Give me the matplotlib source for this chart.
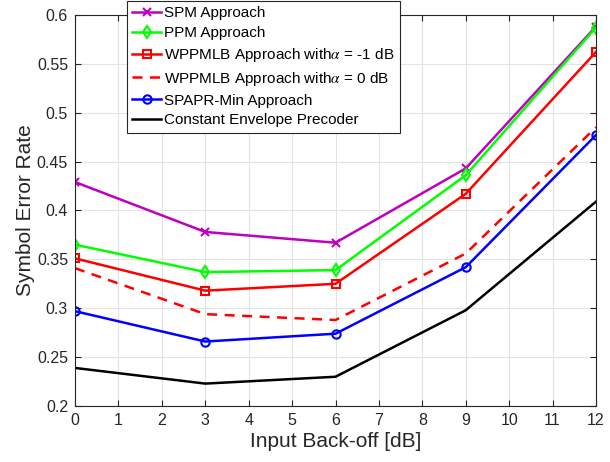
import numpy as np
import matplotlib
matplotlib.use("Agg")
import matplotlib.pyplot as plt

plt.rcParams['font.family'] = ['Liberation Sans', 'DejaVu Sans']
plt.rcParams['mathtext.fontset'] = 'stix'

# data
ibo = [0, 3, 6, 9, 12]
ser_spm = [0.429, 0.378, 0.367, 0.443, 0.588]
ser_ppm = [0.365, 0.337, 0.339, 0.436, 0.587]
ser_wppmlb_m1 = [0.351, 0.318, 0.325, 0.417, 0.562]
ser_wppmlb_0 = [0.341, 0.294, 0.288, 0.356, 0.485]
ser_spapr = [0.297, 0.266, 0.274, 0.342, 0.477]
ser_cep = [0.239, 0.223, 0.230, 0.298, 0.409]

labels = ['SPM Approach',
          'PPM Approach',
          r'WPPMLB Approach with$\alpha$ = -1 dB',
          r'WPPMLB Approach with$\alpha$ = 0 dB',
          'SPAPR-Min Approach',
          'Constant Envelope Precoder']

fig = plt.figure(figsize=(6.1, 4.62), dpi=100)
ax = fig.add_axes([0.123, 0.121, 0.854, 0.847])

lw = 1.8
ax.plot(ibo, ser_spm, color='#bf00bf', marker='x', ms=6, mew=1.5, lw=lw, label=labels[0])
ax.plot(ibo, ser_ppm, color='#00ff00', marker='d', ms=6.5, mfc='none', mew=1.5, lw=lw, label=labels[1])
ax.plot(ibo, ser_wppmlb_m1, color='#ff0000', marker='s', ms=6, mfc='none', mew=1.5, lw=lw, label=labels[2])
ax.plot(ibo, ser_wppmlb_0, color='#ff0000', ls=(0, (4, 3)), lw=lw, label=labels[3])
ax.plot(ibo, ser_spapr, color='#0000ff', marker='o', ms=6, mfc='none', mew=1.5, lw=lw, label=labels[4])
ax.plot(ibo, ser_cep, color='black', lw=lw, label=labels[5])

ax.set_xlim(0, 12)
ax.set_ylim(0.2, 0.6)
ax.set_xticks(range(13))
ax.set_yticks(np.arange(0.2, 0.61, 0.05))
ax.set_yticklabels(['0.2', '0.25', '0.3', '0.35', '0.4', '0.45', '0.5', '0.55', '0.6'])
ax.grid(True, color='#e3e3e3', lw=0.8)
ax.set_axisbelow(True)
ax.tick_params(direction='in', labelsize=11.5, colors='#262626', top=True, right=True,
               length=4, pad=5)
for s in ax.spines.values():
    s.set_color('#262626')
ax.set_xlabel('Input Back-off [dB]', fontsize=15, color='#262626', labelpad=3)
ax.set_ylabel('Symbol Error Rate', fontsize=15, color='#262626', labelpad=1)

leg = ax.legend(loc='upper left', bbox_to_anchor=(127 / 610, 1 - 1 / 462),
                bbox_transform=fig.transFigure, fontsize=11, fancybox=False,
                framealpha=1, edgecolor='#262626', handlelength=1.9,
                handletextpad=0.2, labelspacing=0.38, borderpad=0.35, borderaxespad=0)
leg.get_frame().set_linewidth(0.8)

fig.savefig('out.png', dpi=100)
